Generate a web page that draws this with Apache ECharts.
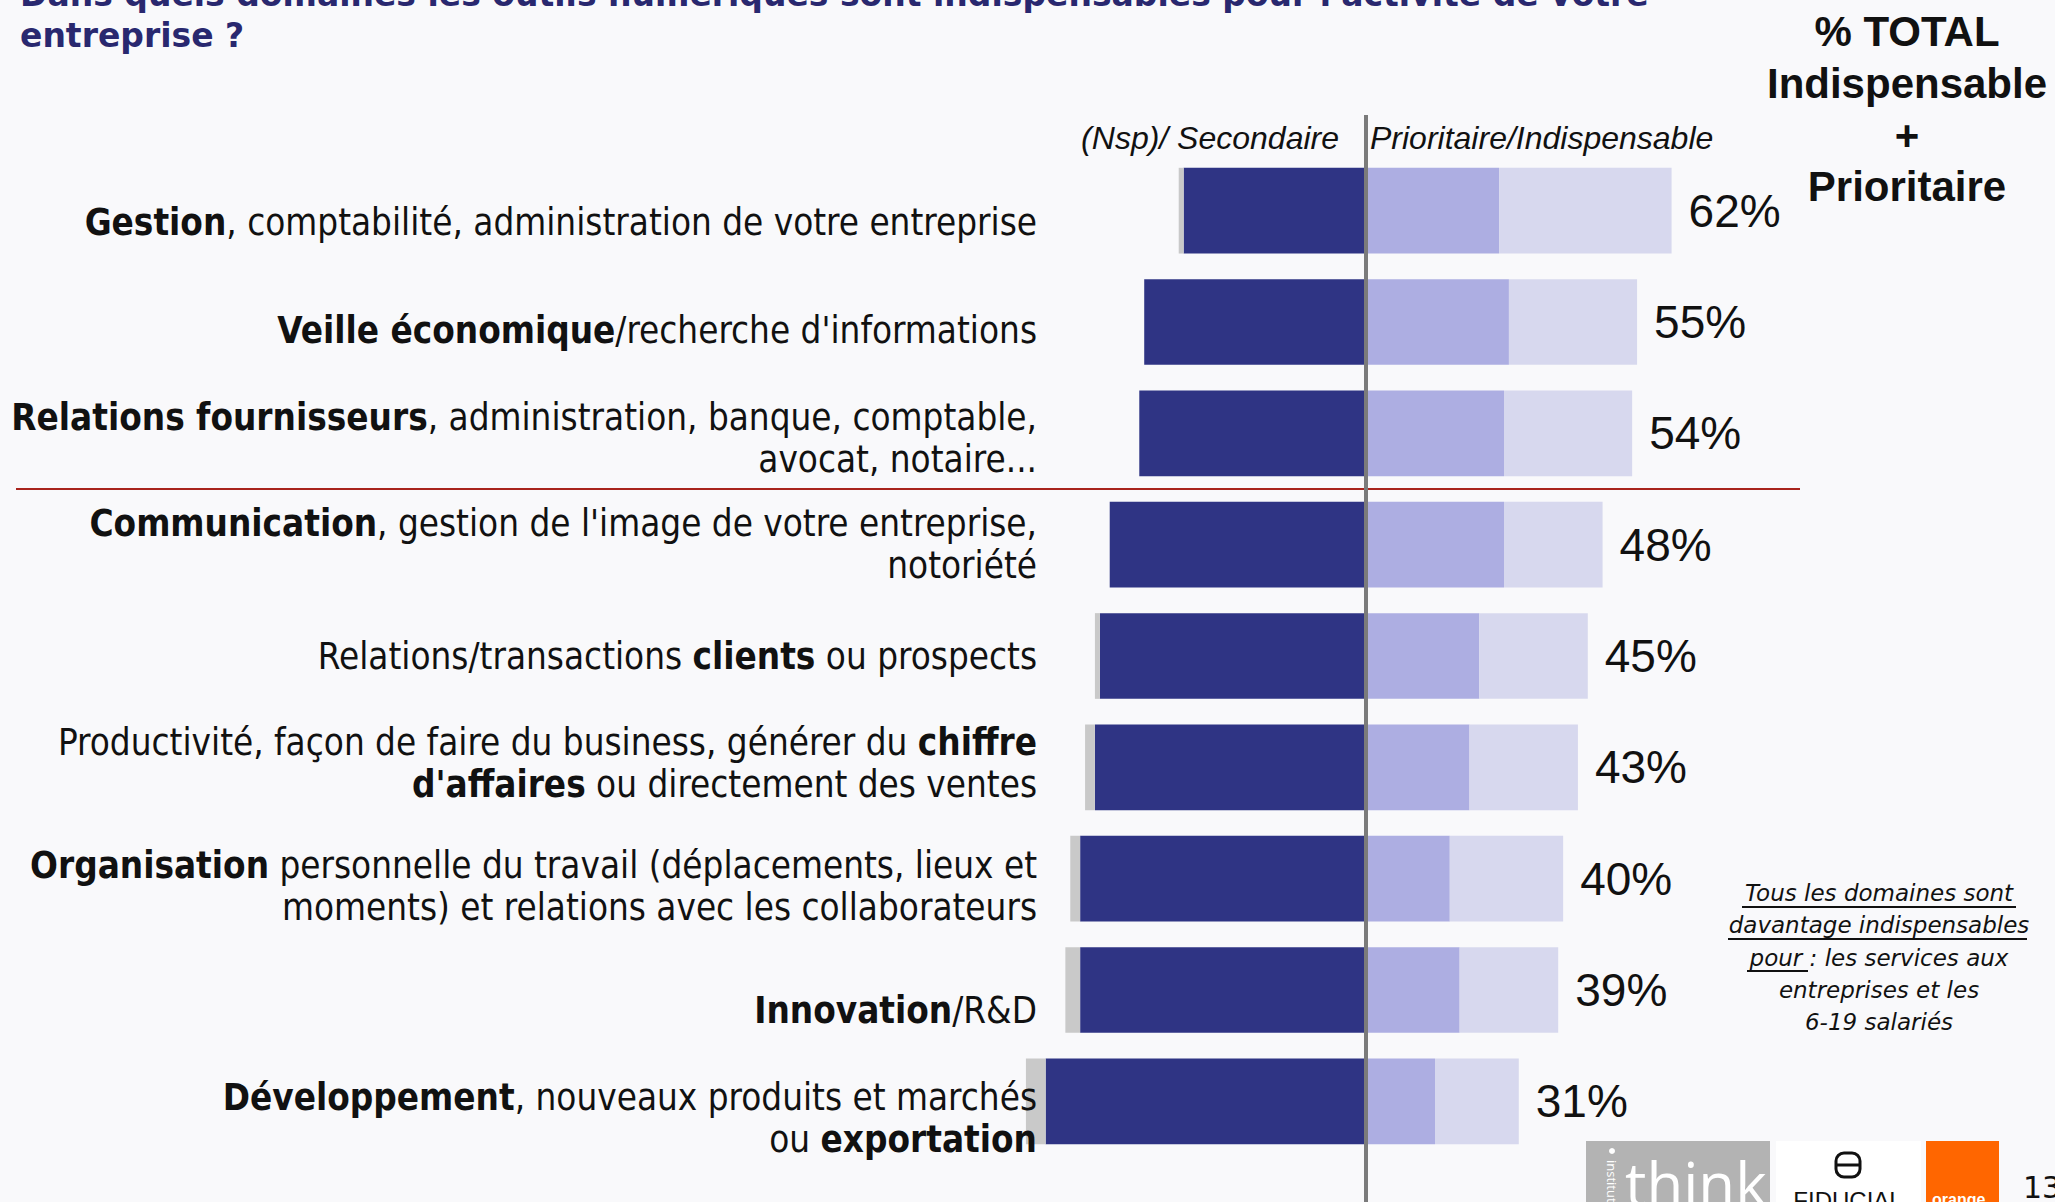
<!DOCTYPE html>
<html>
<head>
<meta charset="utf-8">
<title>Outils numériques indispensables</title>
<script src="https://cdn.jsdelivr.net/npm/echarts@6/dist/echarts.min.js"></script>
<style>
    html, body { margin: 0; padding: 0; background: #f9f9fb; }
    #main { width: 2055px; height: 1202px; }
</style>
</head>
<body>
<div id="main"></div>
<script>
// domaines, du haut vers le bas ({b|...} = gras)
const categories = [
    '{b|Gestion}, comptabilité, administration de votre entreprise',
    '{b|Veille économique}/recherche d\'informations',
    '{b|Relations fournisseurs}, administration, banque, comptable,\navocat, notaire...',
    '{b|Communication}, gestion de l\'image de votre entreprise,\nnotoriété',
    'Relations/transactions {b|clients} ou prospects',
    'Productivité, façon de faire du business, générer du {b|chiffre}\n{b|d\'affaires} ou directement des ventes',
    '{b|Organisation} personnelle du travail (déplacements, lieux et\nmoments) et relations avec les collaborateurs',
    '{b|Innovation}/R&D',
    '{b|Développement}, nouveaux produits et marchés\nou {b|exportation}'
]
const secondaire = [37, 45, 46, 52, 54, 55, 58, 58, 65]
const nsp = [1, 0, 0, 0, 1, 2, 2, 3, 4]
const indispensable = [27, 29, 28, 28, 23, 21, 17, 19, 14]
const prioritaire = [35, 26, 26, 20, 22, 22, 23, 20, 17]
const totals = [62, 55, 54, 48, 45, 43, 40, 39, 31]

// small vertical nudges of the row labels, as on the slide (px, + = down)
const labelShift = [12, 8, 5, 0, 0, -4, 8, 20, 17]

let chart = echarts.init(document.getElementById('main'), null, { renderer: 'svg' })

let labelFont = 'DejaVu Sans Condensed'
let yData = categories.map((c, i) => {
    let s = labelShift[i]
    return {
        value: c,
        textStyle: { padding: s >= 0 ? [s * 2, 0, 0, 0] : [0, 0, -s * 2, 0] },
    }
})

let option = {
    backgroundColor: '#f9f9fb',
    animation: false,
    grid: {
        top: 155,
        bottom: 45,
        left: 1021,
        right: 344,
    },
    xAxis: {
        type: 'value',
        show: false,
        min: -70,
        max: 70,
    },
    yAxis: {
        type: 'category',
        inverse: true,
        z: 10,
        data: yData,
        axisLine: { show: false },
        axisTick: { show: false },
        splitLine: { show: false },
        axisLabel: {
            interval: 0,
            margin: -16,
            color: '#111',
            fontFamily: labelFont,
            fontSize: 36.5,
            lineHeight: 42,
            rich: {
                b: {
                    fontFamily: labelFont,
                    fontWeight: 'bold',
                    fontSize: 36.5,
                    lineHeight: 42,
                    color: '#111',
                },
            },
        },
    },
    series: [
        {
            name: 'Secondaire',
            type: 'bar',
            stack: 'total',
            silent: true,
            barCategoryGap: '23%',
            itemStyle: { color: '#2f3484' },
            data: secondaire.map(v => -v),
        },
        {
            name: 'Nsp',
            type: 'bar',
            stack: 'total',
            silent: true,
            itemStyle: { color: '#c9c9c9' },
            data: nsp.map(v => -v),
        },
        {
            name: 'Indispensable',
            type: 'bar',
            stack: 'total',
            silent: true,
            itemStyle: { color: '#adaee2' },
            data: indispensable,
        },
        {
            name: 'Prioritaire',
            type: 'bar',
            stack: 'total',
            silent: true,
            itemStyle: { color: '#d7d8ee' },
            label: {
                show: true,
                position: 'right',
                distance: 17,
                fontFamily: 'Liberation Sans',
                fontSize: 46,
                color: '#111',
                formatter: p => totals[p.dataIndex] + '%',
            },
            data: prioritaire,
        },
    ],
}
chart.setOption(option)

// position of the 0 axis and of the separator between the 3rd and 4th rows
let x0 = chart.convertToPixel({ xAxisIndex: 0 }, 0)
let ySep = (chart.convertToPixel({ yAxisIndex: 0 }, 2) + chart.convertToPixel({ yAxisIndex: 0 }, 3)) / 2

const navy = '#29286f'
chart.setOption({
    graphic: [
        // title (first line cut by the top of the slide)
        {
            type: 'text', x: 20, y: -6,
            style: { text: 'Dans quels domaines les outils numériques sont indispensables pour l\'activité de votre', font: 'bold 33px "DejaVu Sans"', fill: navy, textVerticalAlign: 'middle' },
        },
        {
            type: 'text', x: 20, y: 35,
            style: { text: 'entreprise ?', font: 'bold 33px "DejaVu Sans"', fill: navy, textVerticalAlign: 'middle' },
        },
        // column headers
        {
            type: 'text', x: x0 - 27, y: 138,
            style: { text: '(Nsp)/ Secondaire', font: 'italic 32px "Liberation Sans"', fill: '#111', textAlign: 'right', textVerticalAlign: 'middle' },
        },
        {
            type: 'text', x: x0 + 4, y: 138,
            style: { text: 'Prioritaire/Indispensable', font: 'italic 32px "Liberation Sans"', fill: '#111', textAlign: 'left', textVerticalAlign: 'middle' },
        },
        {
            type: 'text', x: 1907, y: 6,
            style: { text: '% TOTAL\nIndispensable\n+\nPrioritaire', font: 'bold 42px "Liberation Sans"', lineHeight: 51.7, fill: '#111', textAlign: 'center', textVerticalAlign: 'top' },
        },
        // axis line and separator
        {
            type: 'line', z: 100,
            shape: { x1: x0, y1: 115, x2: x0, y2: 1202 },
            style: { stroke: '#7b7b7b', lineWidth: 4 },
        },
        {
            type: 'line', z: 90,
            shape: { x1: 16, y1: ySep, x2: 1800, y2: ySep },
            style: { stroke: '#a8231c', lineWidth: 2 },
        },
        // note
        {
            type: 'text', x: 1879, y: 877,
            style: {
                text: 'Tous les domaines sont\ndavantage indispensables\npour : les services aux\nentreprises et les\n6-19 salariés',
                font: 'italic 23px "DejaVu Sans"', lineHeight: 32.3, fill: '#111', textAlign: 'center', textVerticalAlign: 'top',
            },
        },
        { type: 'line', shape: { x1: 1742, y1: 907, x2: 2016, y2: 907 }, style: { stroke: '#111', lineWidth: 2 } },
        { type: 'line', shape: { x1: 1728, y1: 939, x2: 2027, y2: 939 }, style: { stroke: '#111', lineWidth: 2 } },
        { type: 'line', shape: { x1: 1747, y1: 971, x2: 1808, y2: 971 }, style: { stroke: '#111', lineWidth: 2 } },
        // logos
        { type: 'rect', shape: { x: 1586, y: 1141, width: 184, height: 61 }, style: { fill: '#b3b3b3' } },
        {
            type: 'text', x: 1625, y: 1183,
            style: { text: 'think', font: '60px "Open Sans"', fill: '#fff', textVerticalAlign: 'middle' },
        },
        { type: 'circle', shape: { cx: 1612, cy: 1151, r: 3 }, style: { fill: '#fff' } },
        {
            type: 'text', x: 1612, y: 1160, rotation: -Math.PI / 2,
            style: { text: 'institut', font: '13px "Open Sans"', fill: '#fff', textVerticalAlign: 'middle' },
        },
        { type: 'rect', shape: { x: 1776, y: 1141, width: 145, height: 61 }, style: { fill: '#fff' } },
        { type: 'rect', shape: { x: 1836, y: 1153, width: 24, height: 24, r: 8 }, style: { fill: 'none', stroke: '#111', lineWidth: 3 } },
        { type: 'line', shape: { x1: 1836, y1: 1165, x2: 1860, y2: 1165 }, style: { stroke: '#111', lineWidth: 3 } },
        {
            type: 'text', x: 1848, y: 1200,
            style: { text: 'FIDUCIAL', font: '24px "Liberation Sans"', fill: '#111', textAlign: 'center', textVerticalAlign: 'middle' },
        },
        { type: 'rect', shape: { x: 1926, y: 1141, width: 73, height: 61 }, style: { fill: '#ff6600' } },
        {
            type: 'text', x: 1932, y: 1199,
            style: { text: 'orange', font: 'bold 16px "Liberation Sans"', fill: '#fff', textVerticalAlign: 'middle' },
        },
        {
            type: 'text', x: 2023, y: 1187,
            style: { text: '13', font: '30px "DejaVu Sans"', fill: '#111', textVerticalAlign: 'middle' },
        },
    ],
})
</script>
</body>
</html>
